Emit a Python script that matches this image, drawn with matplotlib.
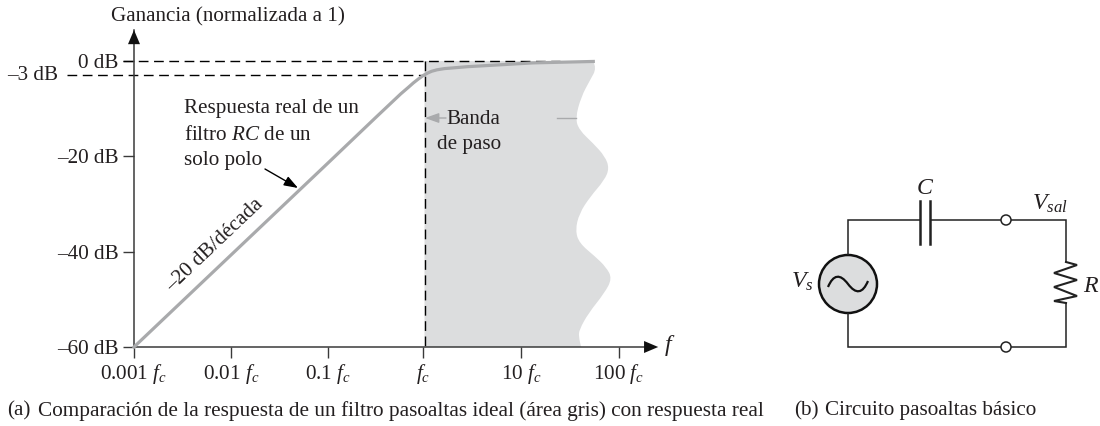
import numpy as np
import matplotlib.pyplot as plt
from matplotlib.path import Path
from matplotlib.patches import PathPatch, Circle

plt.rcParams['font.family'] = ['Liberation Serif', 'DejaVu Serif']
plt.rcParams['mathtext.fontset'] = 'custom'
plt.rcParams['mathtext.rm'] = 'Liberation Serif'
plt.rcParams['mathtext.it'] = 'Liberation Serif:italic'

# ==========================
# Data (x in decades relative to fc, y in dB)
# ==========================

x_ticks = [-3, -2, -1, -0.02, 0.99, 2]
x_labels = ['0.001 $f_c$', '0.01 $f_c$', '0.1 $f_c$', '$f_c$', '10 $f_c$', '100 $f_c$']
y_ticks = [0, -20, -40, -60]
y_labels = ['0 dB', '\u201320 dB', '\u201340 dB', '\u201360 dB']

resp_x = [-3, -2, -1, -0.5, -0.25, -0.17, -0.12, -0.07, -0.015, 0.03, 0.07, 0.124, 0.2, 0.435, 1.115, 1.735]
resp_y = [-60, -40.7, -21.4, -11.7, -6.9, -5.5, -4.6, -3.8, -3, -2.5, -2.15, -1.85, -1.6, -1.2, -0.4, -0.1]

# wavy right edge of the ideal pass band
band_x = [1.735, 1.77, 1.702, 1.61, 1.55, 1.59, 1.735, 1.855, 1.90, 1.85, 1.702,
          1.59, 1.55, 1.59, 1.753, 1.865, 1.93, 1.85, 1.685, 1.59, 1.585, 1.609]
band_y = [-0.1, -1.5, -4, -7.5, -12, -14.5, -17.3, -20, -22.5, -25, -28.5,
          -32, -35.5, -38.2, -41, -43.2, -45.6, -48.7, -52.9, -56.4, -57.8, -60]

GRAY_LINE = '#a9aaac'
GRAY_FILL = '#dcddde'
DARK = '#3a3a3a'
TXT = '#231f20'
FS = 15.2

fig = plt.figure(figsize=(11, 4.26), dpi=100)
W, H = 1100, 426

# axes are placed so 97 px = 1 decade and 4.767 px = 1 dB
left, right, top, bottom = 134, 652, 30, 347
ax = fig.add_axes([left / W, 1 - bottom / H, (right - left) / W, (bottom - top) / H])
ax.set_xlim(-3, -3 + (right - left) / 97)
ax.set_ylim(-60, -60 + (bottom - top) / 4.767)
ax.patch.set_alpha(0)

for s in ['top', 'right']:
    ax.spines[s].set_visible(False)
for s in ['left', 'bottom']:
    ax.spines[s].set_color(DARK)
    ax.spines[s].set_linewidth(1.1)

ax.set_xticks(x_ticks, x_labels, fontsize=FS, color=TXT)
ax.set_yticks(y_ticks, y_labels, fontsize=FS, color=TXT)
ax.tick_params(axis='x', length=7.9, width=1.0, color=DARK, pad=3)
ax.tick_params(axis='y', length=7.9, width=1.0, color=DARK, pad=3)

# pass band, smoothed with quadratic segments between the read points
verts = [(-0.005, 0), (band_x[0], 0), (band_x[0], band_y[0])]
codes = [Path.MOVETO, Path.LINETO, Path.LINETO]
for i in range(1, len(band_x) - 1):
    verts.append((band_x[i], band_y[i]))
    verts.append(((band_x[i] + band_x[i + 1]) / 2, (band_y[i] + band_y[i + 1]) / 2))
    codes += [Path.CURVE3, Path.CURVE3]
verts += [(band_x[-1], band_y[-1]), (-0.005, -60), (-0.005, 0)]
codes += [Path.LINETO, Path.LINETO, Path.CLOSEPOLY]
ax.add_patch(PathPatch(Path(verts, codes), fc=GRAY_FILL, ec='none', zorder=1))

dash = (0, (7, 4))
ax.plot([-3.115, 1.39], [0, 0], color='black', lw=1.0, ls=dash, clip_on=False, zorder=2)
ax.plot([-3.69, -0.005], [-3, -3], color='black', lw=1.0, ls=dash, clip_on=False, zorder=2)
ax.plot([-0.005, -0.005], [0, -60], color='black', lw=1.0, ls=dash, zorder=2)

ax.plot(resp_x, resp_y, color=GRAY_LINE, lw=2.3, zorder=3, clip_on=False)

# axis arrowheads
head = dict(arrowstyle='-|>,head_length=0.85,head_width=0.36', color='#111111', lw=0, shrinkA=0, shrinkB=0, mutation_scale=12)
ax.annotate('', xy=(0, 1.0), xytext=(0, 0.96), xycoords='axes fraction', arrowprops=head)
ax.annotate('', xy=(1.012, 0), xytext=(0.97, 0), xycoords='axes fraction', arrowprops=head)

# ==========================
# Overlay in pixel coordinates: notes and circuit
# ==========================

ov = fig.add_axes([0, 0, 1, 1])
ov.set_xlim(0, W)
ov.set_ylim(H, 0)
ov.axis('off')
ov.patch.set_alpha(0)

def label(x, y, s, **kw):
    kw.setdefault('ha', 'left')
    kw.setdefault('va', 'center')
    kw.setdefault('fontsize', FS)
    kw.setdefault('color', TXT)
    ov.text(x, y, s, **kw)

label(111, 17, 'Ganancia (normalizada a 1)')
label(58, 76, '\u20133 dB', ha='right')
label(184, 108, 'Respuesta real de un')
label(184, 135, 'filtro $RC$ de un')
label(184, 160, 'solo polo')
label(446, 120, 'Banda')
label(437, 145, 'de paso')
label(664, 346, '$f$', fontsize=FS + 2)
label(215, 245, '\u201320 dB/d\u00e9cada', ha='center', rotation=43.5, rotation_mode='anchor')
label(7, 411, '(a)')
label(38, 411, 'Comparaci\u00f3n de la respuesta de un filtro pasoaltas ideal (\u00e1rea gris) con respuesta real', fontsize=FS + 0.1)
label(794, 411, '(b)')
label(825, 411, 'Circuito pasoaltas b\u00e1sico')

ov.annotate('', xy=(298, 188), xytext=(265, 169), arrowprops=dict(arrowstyle='-|>,head_length=0.7,head_width=0.25', color='black', lw=1, shrinkA=0, shrinkB=0, mutation_scale=12))
ov.annotate('', xy=(425, 118), xytext=(446, 118), arrowprops=dict(arrowstyle='-|>,head_length=0.7,head_width=0.25', color=GRAY_LINE, lw=1, shrinkA=0, shrinkB=0, mutation_scale=12))
ov.plot([557, 576], [118, 118], color=GRAY_LINE, lw=1)

# circuit
wire = dict(color='#222222', lw=1.1, solid_capstyle='butt', solid_joinstyle='miter')
ov.plot([848, 848, 920], [255, 220, 220], **wire)
ov.plot([930, 1001], [220, 220], **wire)
ov.plot([1011, 1066, 1066], [220, 220, 262], **wire)
ov.plot([1066, 1066, 1011], [303, 347, 347], **wire)
ov.plot([1001, 848, 848], [347, 347, 313], **wire)
ov.plot([920, 920], [201, 244], color='#222222', lw=1.8)
ov.plot([930, 930], [201, 244], color='#222222', lw=1.8)
ov.plot([1066, 1077, 1054, 1077, 1054, 1077, 1054, 1066], [262, 265, 273, 280, 287, 296, 301, 303], color='#222222', lw=1.5, solid_joinstyle='miter')
ov.add_patch(Circle((848, 284), 29, fc=GRAY_FILL, ec='#111111', lw=1.8))
ov.add_patch(Circle((1006, 220), 5, fc='white', ec='#222222', lw=1.1, zorder=4))
ov.add_patch(Circle((1006, 347), 5, fc='white', ec='#222222', lw=1.1, zorder=4))
sine = Path([(828, 287), (836, 268), (848, 284), (860, 300), (868, 281)],
            [Path.MOVETO, Path.CURVE3, Path.CURVE3, Path.CURVE3, Path.CURVE3])
ov.add_patch(PathPatch(sine, fc='none', ec='#111111', lw=1.6))

label(925, 189, '$C$', ha='center', fontsize=FS + 2)
label(1050, 204, '$V_{sal}$', ha='center', fontsize=FS + 2)
label(802, 282, '$V_s$', ha='center', fontsize=FS + 2)
label(1091, 286, '$R$', ha='center', fontsize=FS + 2)

fig.savefig('out.png', dpi=100)
